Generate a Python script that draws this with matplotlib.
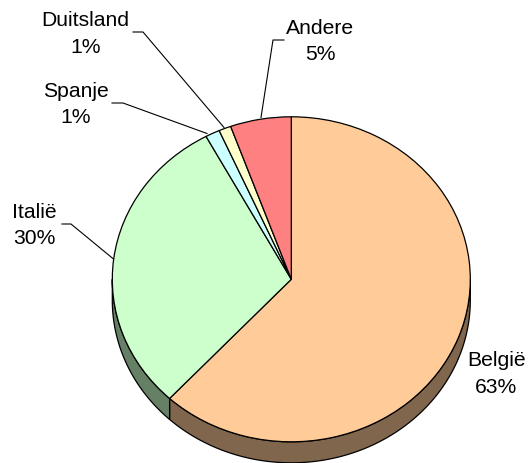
import numpy as np
import matplotlib
matplotlib.use('Agg')
import matplotlib.pyplot as plt
from matplotlib.lines import Line2D

plt.rcParams['font.family'] = ['Liberation Sans', 'DejaVu Sans']

countries = ['België', 'Italië', 'Spanje', 'Duitsland', 'Andere']
shares = [61.9, 30.2, 1.3, 1.1, 5.5]
pct_labels = ['63%', '30%', '1%', '1%', '5%']
colors = ['#FFCC99', '#CCFFCC', '#CCFFFF', '#FFFFCC', '#FF8080']
side_colors = ['#80664D', '#668066', '#668080', '#808066', '#804040']

W, H = 528, 464
cx, cy = 291.3, 280.3
rx, ry = 179, 162.5
depth = 21

label_pos = [(496.5, 374), (34.5, 225.5), (75.5, 104.5), (85.5, 34), (320.5, 41.5)]
leaders = [
    None,
    [(113.5, 260), (71, 225), (62, 225)],
    [(207, 134.5), (123, 104), (112, 104)],
    [(224, 128.5), (143, 33), (133, 33)],
    [(261, 118.5), (273, 41), (284, 41)],
]

fig = plt.figure(figsize=(W / 100, H / 100), dpi=100)
ax = fig.add_axes([0, 0, 1, 1])

# zijkant van de taart: alleen de onderste helft is zichtbaar
dy = depth / ry
ends = 90 - np.cumsum(shares) * 3.6
starts = np.concatenate([[90], ends[:-1]])
for a0, a1, c in zip(starts, ends, side_colors):
    lo = max(a1, -180)
    hi = min(a0, 0)
    if hi > lo:
        t = np.radians(np.linspace(hi, lo, 120))
        xs = np.concatenate([np.cos(t), np.cos(t[::-1])])
        ys = np.concatenate([np.sin(t), np.sin(t[::-1]) - dy])
        ax.fill(xs, ys, facecolor=c, edgecolor='black', linewidth=0.9, zorder=1)

wedges, _ = ax.pie(shares, colors=colors, startangle=90, counterclock=False,
                   wedgeprops={'edgecolor': 'black', 'linewidth': 0.9, 'zorder': 2})

ax.set_aspect('auto')
ax.set_xlim(-cx / rx, (W - cx) / rx)
ax.set_ylim(-(H - cy) / ry, cy / ry)
ax.axis('off')

for name, pct, (x, y) in zip(countries, pct_labels, label_pos):
    fig.text(x / W, 1 - y / H, name + '\n' + pct, ha='center', va='center',
             fontsize=15.2, linespacing=1.53, color='black')

for pts in leaders:
    if pts is None:
        continue
    xs = [p[0] / W for p in pts]
    ys = [1 - p[1] / H for p in pts]
    fig.add_artist(Line2D(xs, ys, transform=fig.transFigure, color='black', linewidth=0.8))

fig.savefig('out.png', dpi=100)
